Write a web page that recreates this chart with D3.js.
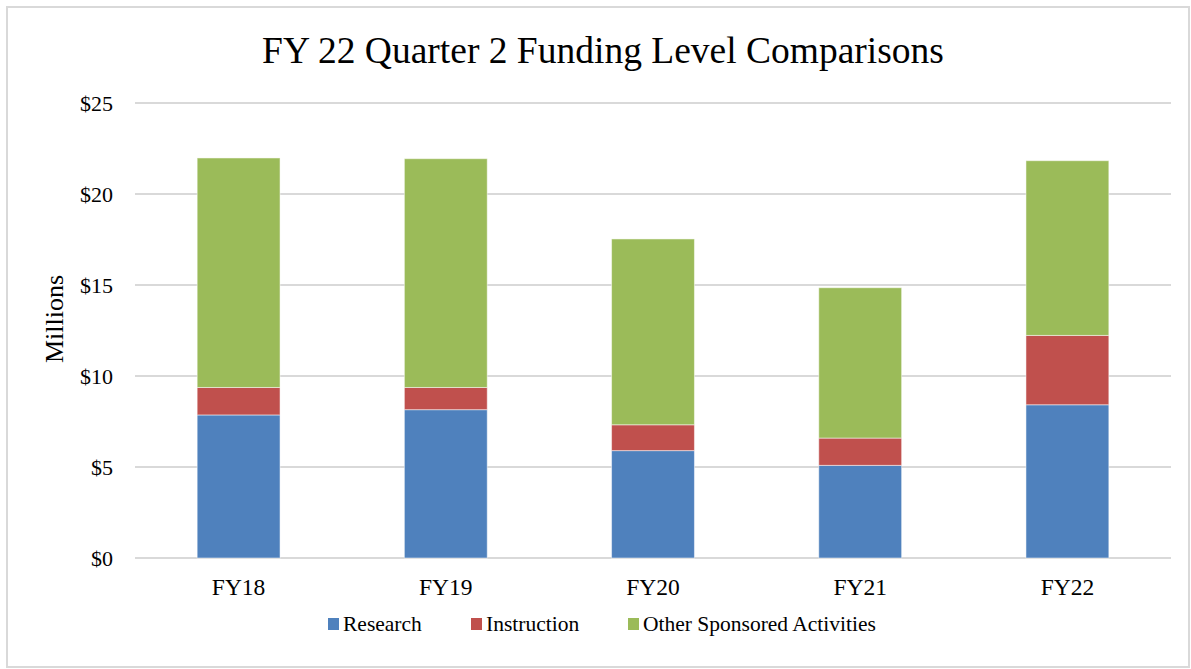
<!DOCTYPE html>
<html>
<head>
<meta charset="utf-8">
<script src="https://cdn.jsdelivr.net/npm/d3@7"></script>
<style>
  body { margin: 0; background: #fff; }
  text { font-family: "Liberation Serif", "Times New Roman", serif; fill: #000; }
</style>
</head>
<body>
<div id="canvas"></div>
<script>
"use strict"

let drawingWidth = 1191;
let drawingHeight = 669;

// data (millions of dollars)
let years = ["FY18", "FY19", "FY20", "FY21", "FY22"];
let research = [7.86, 8.15, 5.90, 5.09, 8.42];
let instruction = [1.51, 1.22, 1.42, 1.50, 3.81];
let otherSponsored = [12.61, 12.57, 10.21, 8.26, 9.60];
let seriesNames = ["Research", "Instruction", "Other Sponsored Activities"];
let seriesColors = ["#4f81bd", "#c0504d", "#9bbb59"];
let yTicks = [0, 5, 10, 15, 20, 25];

let margin = { left: 135, right: 20, top: 103, bottom: 111 };

let drawing = d3.select("#canvas")
    .append("svg")
    .attr("width", drawingWidth)
    .attr("height", drawingHeight);

/* chart area border */
drawing.append("rect")
    .attr("x", 7)
    .attr("y", 7)
    .attr("width", drawingWidth - 9)
    .attr("height", drawingHeight - 9)
    .attr("fill", "white")
    .attr("stroke", "#d9d9d9")
    .attr("stroke-width", 2);

let xScale = d3.scaleBand()
    .domain(years)
    .range([margin.left, drawingWidth - margin.right])
    .paddingInner(0.6)
    .paddingOuter(0.3);

let yScale = d3.scaleLinear()
    .domain([0, 25])
    .range([drawingHeight - margin.bottom, margin.top]);

/* gridlines */
drawing.append("g")
    .selectAll("line")
    .data(yTicks)
    .join("line")
    .attr("x1", margin.left)
    .attr("x2", drawingWidth - margin.right)
    .attr("y1", d => yScale(d))
    .attr("y2", d => yScale(d))
    .attr("stroke", "#d9d9d9")
    .attr("stroke-width", 2);

/* y axis labels */
let yAxis = d3.axisLeft(yScale)
    .tickValues(yTicks)
    .tickFormat(d => "$" + d)
    .tickSize(0)
    .tickPadding(22);

let yAxisGroup = drawing.append("g")
    .attr("transform", "translate(" + margin.left + ",0)")
    .call(yAxis);
yAxisGroup.select(".domain").remove();
yAxisGroup.selectAll("text")
    .style("font-family", "'Liberation Serif', 'Times New Roman', serif")
    .style("font-size", "22px")
    .attr("fill", "#000");

/* stacked bars */
let table = years.map((y, i) => ({
    year: y,
    "Research": research[i],
    "Instruction": instruction[i],
    "Other Sponsored Activities": otherSponsored[i]
}));

let stacked = d3.stack().keys(seriesNames)(table);

drawing.append("g")
    .selectAll("g")
    .data(stacked)
    .join("g")
    .attr("fill", (d, i) => seriesColors[i])
    .selectAll("rect")
    .data(d => d)
    .join("rect")
    .attr("x", d => xScale(d.data.year))
    .attr("y", d => yScale(d[1]))
    .attr("width", xScale.bandwidth())
    .attr("height", d => yScale(d[0]) - yScale(d[1]))
    .attr("stroke", "rgba(255,255,255,0.5)")
    .attr("stroke-width", 1);

/* x axis labels */
let xAxis = d3.axisBottom(xScale).tickSize(0).tickPadding(20);
let xAxisGroup = drawing.append("g")
    .attr("transform", "translate(0," + yScale(0) + ")")
    .call(xAxis);
xAxisGroup.select(".domain").remove();
xAxisGroup.selectAll("text")
    .style("font-family", "'Liberation Serif', 'Times New Roman', serif")
    .style("font-size", "23.5px")
    .attr("fill", "#000");

/* title */
drawing.append("text")
    .attr("x", 603)
    .attr("y", 63)
    .attr("text-anchor", "middle")
    .style("font-size", "37.5px")
    .text("FY 22 Quarter 2 Funding Level Comparisons");

/* y axis title */
drawing.append("text")
    .attr("transform", "translate(63,319) rotate(-90)")
    .attr("text-anchor", "middle")
    .style("font-size", "26px")
    .text("Millions");

/* legend */
let legendX = [328, 471, 628];
let legend = drawing.append("g")
    .selectAll("g")
    .data(seriesNames)
    .join("g")
    .attr("transform", (d, i) => "translate(" + legendX[i] + ",618)");

legend.append("rect")
    .attr("width", 11)
    .attr("height", 12)
    .attr("fill", (d, i) => seriesColors[i]);

legend.append("text")
    .attr("x", 15)
    .attr("y", 13)
    .style("font-size", "21.5px")
    .text(d => d);
</script>
</body>
</html>
